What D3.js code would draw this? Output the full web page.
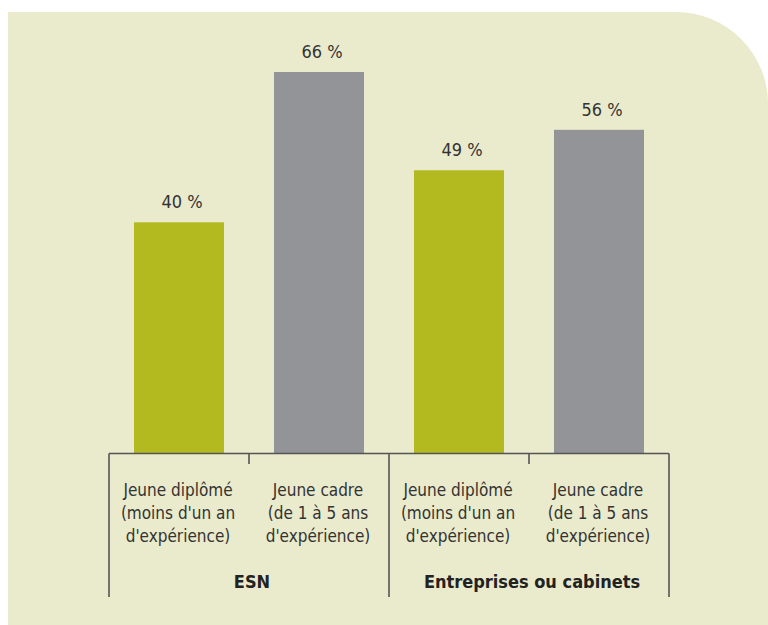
<!DOCTYPE html>
<html>
<head>
<meta charset="utf-8">
<script src="https://cdn.jsdelivr.net/npm/d3@7"></script>
<style>
  html, body { margin: 0; padding: 0; background: #ffffff; }
  svg { display: block; }
  text { font-family: "Liberation Sans Narrow", "DejaVu Sans Condensed", "Liberation Sans", sans-serif; fill: #333333; }
</style>
</head>
<body>
<svg id="chart" width="768" height="625"></svg>
<script>
// Share of respondents, by employer type and experience level
const groups = ["ESN", "Entreprises ou cabinets"];
const categories = [
  ["Jeune diplômé", "(moins d'un an", "d'expérience)"],
  ["Jeune cadre", "(de 1 à 5 ans", "d'expérience)"],
  ["Jeune diplômé", "(moins d'un an", "d'expérience)"],
  ["Jeune cadre", "(de 1 à 5 ans", "d'expérience)"]
];
const values = [40, 66, 49, 56];
const colors = ["#b2ba1f", "#939498", "#b2ba1f", "#939498"];

const svg = d3.select("#chart");
const W = 768, H = 625;

// Background panel with rounded top-right corner
const px = 8, py = 12, r = 92;
svg.append("path")
  .attr("d", `M${px},${py} H${W - r} A${r},${r} 0 0 1 ${W},${py + r} V${H} H${px} Z`)
  .attr("fill", "#eaeacc");

const baseY = 453.5;
const x = d3.scaleBand()
  .domain(d3.range(values.length))
  .range([109, 669])
  .paddingInner(0.3571)
  .paddingOuter(0.1786);

const y = d3.scaleLinear().domain([0, 66]).range([baseY, 72]);

// Bars
svg.selectAll("rect.bar")
  .data(values)
  .join("rect")
  .attr("class", "bar")
  .attr("x", (d, i) => x(i))
  .attr("width", x.bandwidth())
  .attr("y", d => y(d))
  .attr("height", d => baseY - y(d))
  .attr("fill", (d, i) => colors[i]);

// Value labels
svg.selectAll("text.val")
  .data(values)
  .join("text")
  .attr("class", "val")
  .attr("x", (d, i) => x(i) + x.bandwidth() / 2 + 3)
  .attr("y", d => y(d) - 14)
  .attr("text-anchor", "middle")
  .style("font-size", "18px")
  .text(d => d + " %");

// Axis structure: baseline, group dividers and mid ticks
const groupEdges = [109, 389, 669];
const axisG = svg.append("g").attr("stroke", "#555555").attr("stroke-width", 1.6);
axisG.append("line")
  .attr("x1", groupEdges[0]).attr("x2", groupEdges[2])
  .attr("y1", baseY).attr("y2", baseY);
groupEdges.forEach(gx => {
  axisG.append("line").attr("x1", gx).attr("x2", gx).attr("y1", baseY).attr("y2", 597);
});
groups.forEach((g, gi) => {
  const mid = (groupEdges[gi] + groupEdges[gi + 1]) / 2;
  axisG.append("line").attr("x1", mid).attr("x2", mid).attr("y1", baseY).attr("y2", 464);
});

// Category labels
categories.forEach((lines, i) => {
  const cx = x(i) + x.bandwidth() / 2 - 1;
  const t = svg.append("text")
    .attr("text-anchor", "middle")
    .style("font-size", "17px");
  lines.forEach((ln, li) => {
    t.append("tspan").attr("x", cx).attr("y", 496 + li * 23).text(ln);
  });
});

// Group labels
groups.forEach((g, gi) => {
  svg.append("text")
    .attr("x", (groupEdges[gi] + groupEdges[gi + 1]) / 2 + 3)
    .attr("y", 588)
    .attr("text-anchor", "middle")
    .style("font-size", "18px")
    .style("font-weight", "bold")
    .style("fill", "#222222")
    .text(g);
});
</script>
</body>
</html>
